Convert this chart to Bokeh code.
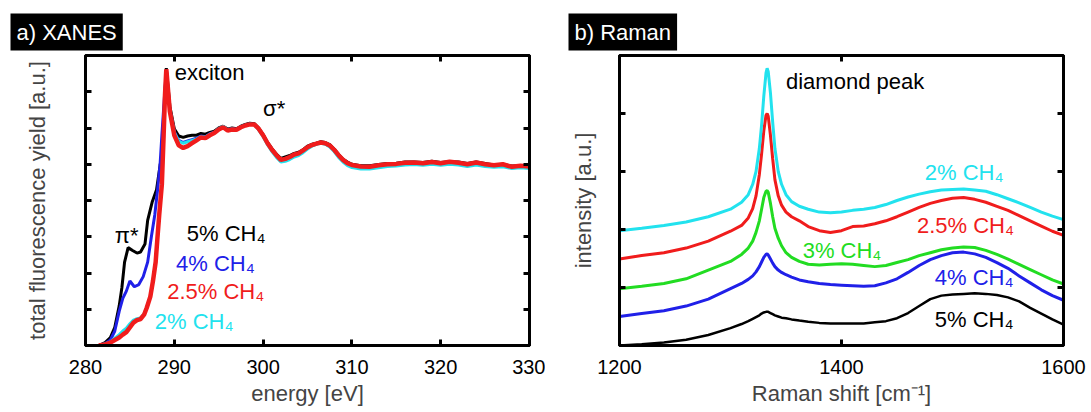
from bokeh.plotting import figure
from bokeh.models import Range1d, LinearAxis, FixedTicker, Label, CustomJSTickFormatter
from bokeh.layouts import row
from bokeh.embed import file_html
from bokeh.resources import INLINE

FONT = "Liberation Sans"

# ---------------- XANES data ----------------
xanes_ticks = [280, 290, 300, 310, 320, 330]

black_pre_e = [281.5, 282.2, 282.8, 283.3, 283.8, 284.1, 284.4, 284.8, 285.3, 285.8, 286.2, 286.7, 287.0, 287.5, 288.0, 288.3, 288.6, 288.9]
black_pre_y = [0.0, 0.08, 0.22, 0.5, 1.1, 1.6, 2.3, 2.7, 2.62, 2.55, 2.58, 2.8, 3.45, 3.95, 4.3, 4.8, 5.3, 6.7]

blue_pre_e = [281.5, 282.2, 282.8, 283.3, 283.8, 284.2, 284.6, 285.0, 285.5, 286.0, 286.5, 287.0, 287.4, 287.8, 288.1, 288.4, 288.6, 288.9]
blue_pre_y = [0.0, 0.05, 0.15, 0.4, 0.95, 1.3, 1.5, 1.78, 1.62, 1.68, 1.9, 2.3, 2.97, 3.6, 4.26, 5.0, 5.8, 6.9]

red_pre_e = [281.5, 282.2, 282.8, 283.3, 283.8, 284.2, 284.6, 285.0, 285.4, 285.8, 286.2, 286.6, 286.9, 287.3, 287.6, 287.9, 288.1, 288.3, 288.6, 288.8, 288.95]
red_pre_y = [0.0, 0.03, 0.08, 0.15, 0.22, 0.3, 0.37, 0.5, 0.63, 0.7, 0.73, 0.85, 1.04, 1.35, 1.78, 2.3, 2.96, 3.6, 4.45, 5.8, 6.9]
cyan_pre_y = [0.0, 0.04, 0.1, 0.2, 0.3, 0.4, 0.48, 0.6, 0.7, 0.74, 0.76, 0.88, 1.06, 1.36, 1.8, 2.3, 2.96, 3.6, 4.45, 5.8, 6.9]

post_e = [289.1, 289.5, 290.0, 290.5, 291.0, 291.5, 292.0, 292.5, 293.0, 293.5, 294.0, 294.5, 295.0, 295.5,
          296.0, 296.5, 297.0, 297.5, 298.0, 298.5, 299.0, 299.5, 300.0, 300.5, 301.0, 301.5, 302.0, 302.5,
          303.0, 303.5, 304.0, 304.5, 305.0, 305.5, 306.0, 306.5, 307.0, 307.5, 308.0, 308.5, 309.0, 309.5,
          310.0, 311, 312, 313, 314, 315, 316, 317, 318, 319, 320, 321, 322, 323, 324, 325, 326, 327, 328, 329, 330]
red_post = [7.62, 6.45, 5.8, 5.52, 5.45, 5.5, 5.58, 5.66, 5.74, 5.72, 5.8, 5.86, 5.96, 6.02,
            5.93, 5.96, 5.95, 6.02, 6.07, 6.1, 6.1, 5.98, 5.8, 5.58, 5.4, 5.25, 5.12, 5.15,
            5.2, 5.27, 5.3, 5.38, 5.47, 5.53, 5.57, 5.6, 5.58, 5.52, 5.4, 5.25, 5.12, 5.03,
            4.98, 4.94, 4.93, 4.97, 5.0, 5.01, 5.04, 5.05, 5.03, 5.06, 5.03, 5.07, 5.04, 5.0, 5.05, 5.0, 4.97, 5.0, 4.93, 4.96, 4.94]
black_post = [7.65, 6.6, 5.98, 5.78, 5.74, 5.78, 5.8, 5.8, 5.85, 5.83, 5.88, 5.91, 6.0, 6.05,
              5.97, 6.0, 5.98, 6.05, 6.1, 6.13, 6.12, 6.0, 5.82, 5.6, 5.43, 5.28, 5.16, 5.2,
              5.24, 5.3, 5.33, 5.4, 5.5, 5.55, 5.58, 5.62, 5.6, 5.54, 5.42, 5.27, 5.14, 5.06,
              5.0, 4.96, 4.96, 4.99, 5.02, 5.03, 5.06, 5.06, 5.05, 5.08, 5.05, 5.07, 5.06, 5.02, 5.06, 5.02, 4.98, 5.0, 4.95, 4.96, 4.93]
blue_post = [7.6, 6.5, 5.9, 5.66, 5.6, 5.64, 5.68, 5.72, 5.78, 5.76, 5.84, 5.88, 5.98, 6.04,
             5.95, 5.98, 5.96, 6.03, 6.08, 6.11, 6.1, 5.97, 5.79, 5.57, 5.39, 5.23, 5.1, 5.13,
             5.18, 5.25, 5.28, 5.36, 5.46, 5.52, 5.56, 5.6, 5.57, 5.5, 5.38, 5.22, 5.1, 5.0,
             4.95, 4.91, 4.9, 4.94, 4.97, 4.98, 5.01, 5.02, 5.0, 5.03, 5.0, 5.03, 5.01, 4.97, 5.01, 4.97, 4.94, 4.96, 4.9, 4.92, 4.9]
cyan_post = [7.6, 6.5, 5.88, 5.64, 5.58, 5.62, 5.66, 5.7, 5.76, 5.75, 5.83, 5.88, 5.98, 6.05,
             5.95, 5.97, 5.96, 6.03, 6.08, 6.11, 6.09, 5.95, 5.76, 5.54, 5.35, 5.19, 5.06, 5.08,
             5.13, 5.2, 5.24, 5.32, 5.42, 5.5, 5.55, 5.58, 5.55, 5.48, 5.35, 5.19, 5.06, 4.96,
             4.91, 4.87, 4.87, 4.9, 4.94, 4.95, 4.98, 4.99, 4.97, 5.0, 4.97, 5.0, 4.98, 4.94, 4.98, 4.94, 4.92, 4.93, 4.88, 4.9, 4.88]

# ---------------- Raman data ----------------
raman_ticks = [1200, 1400, 1600]
shift = [1200, 1220, 1240, 1260, 1280, 1300, 1310, 1316, 1320, 1323, 1326, 1328, 1330, 1332, 1333, 1334,
         1336, 1338, 1340, 1343, 1346, 1350, 1355, 1362, 1370, 1380, 1390, 1400, 1410, 1420, 1430, 1440,
         1450, 1460, 1470, 1480, 1490, 1500, 1510, 1520, 1530, 1540, 1550, 1560, 1570, 1580, 1590, 1600]
r_cyan = [1.98, 2.02, 2.07, 2.13, 2.22, 2.35, 2.47, 2.6, 2.78, 3.0, 3.4, 3.8, 4.3, 4.7, 4.78, 4.72,
          4.35, 3.85, 3.4, 3.0, 2.78, 2.6, 2.48, 2.4, 2.35, 2.3, 2.29, 2.3, 2.33, 2.35, 2.38, 2.43,
          2.5, 2.56, 2.61, 2.65, 2.68, 2.69, 2.7, 2.68, 2.66, 2.6, 2.53, 2.46, 2.38, 2.3, 2.23, 2.17]
r_red = [1.49, 1.55, 1.6, 1.68, 1.8, 1.97, 2.07, 2.2, 2.36, 2.58, 2.95, 3.3, 3.7, 3.97, 4.0, 3.95,
         3.62, 3.22, 2.86, 2.58, 2.42, 2.3, 2.22, 2.15, 2.05, 1.98, 1.95, 1.98, 2.05, 2.06, 2.1, 2.15,
         2.22, 2.3, 2.38, 2.45, 2.5, 2.54, 2.55, 2.52, 2.47, 2.4, 2.33, 2.24, 2.15, 2.06, 1.97, 1.9]
r_green = [0.98, 1.02, 1.07, 1.15, 1.3, 1.45, 1.57, 1.68, 1.8, 1.95, 2.15, 2.35, 2.55, 2.66, 2.67, 2.64,
           2.45, 2.22, 2.02, 1.85, 1.72, 1.6, 1.52, 1.45, 1.4, 1.39, 1.4, 1.41, 1.4, 1.38, 1.36, 1.38,
           1.43, 1.48, 1.55, 1.6, 1.65, 1.68, 1.7, 1.69, 1.64, 1.57, 1.49, 1.4, 1.31, 1.22, 1.13, 1.06]
r_blue = [0.5, 0.55, 0.6, 0.68, 0.8, 0.98, 1.07, 1.14, 1.2, 1.27, 1.36, 1.44, 1.52, 1.57, 1.58, 1.56,
          1.49, 1.42, 1.36, 1.3, 1.26, 1.22, 1.18, 1.13, 1.1, 1.07, 1.05, 1.04, 1.03, 1.02, 1.03, 1.08,
          1.15, 1.26, 1.38, 1.48, 1.55, 1.6, 1.61, 1.58, 1.52, 1.43, 1.33, 1.2, 1.08, 0.96, 0.86, 0.78]
r_black = [0.0, 0.02, 0.05, 0.1, 0.18, 0.3, 0.37, 0.42, 0.46, 0.49, 0.52, 0.55, 0.57, 0.58, 0.58, 0.58,
           0.56, 0.54, 0.52, 0.5, 0.48, 0.47, 0.45, 0.43, 0.41, 0.39, 0.38, 0.38, 0.38, 0.38, 0.4, 0.42,
           0.47, 0.56, 0.68, 0.8, 0.86, 0.88, 0.89, 0.9, 0.89, 0.87, 0.83, 0.76, 0.65, 0.55, 0.45, 0.36]

C_BLACK = "#000000"
C_BLUE = "#2020e8"
C_RED = "#f01c1c"
C_CYAN = "#22e2ee"
C_GREEN = "#22dc22"


def style(p, ticks, yticks, xlabel, ylabel, ystandoff, title, title_offset):
    p.outline_line_color = "black"
    p.outline_line_width = 3
    p.xgrid.visible = False
    p.ygrid.visible = False
    p.background_fill_color = "white"
    p.border_fill_color = "white"
    p.add_layout(LinearAxis(), "above")
    p.add_layout(LinearAxis(), "right")
    blank = CustomJSTickFormatter(code="return ''")
    for ax in p.xaxis:
        ax.ticker = FixedTicker(ticks=ticks)
    for ax in p.yaxis:
        ax.ticker = FixedTicker(ticks=yticks)
    for ax in p.xaxis + p.yaxis:
        ax.axis_line_width = 3
        ax.axis_line_color = "black"
        ax.major_tick_in = 6
        ax.major_tick_out = 0
        ax.major_tick_line_width = 3
        ax.minor_tick_line_color = None
        ax.major_label_text_font = FONT
        ax.axis_label_text_font = FONT
    for ax in (p.above[0], p.right[0], p.left[0]):
        ax.formatter = blank
        ax.major_label_standoff = 0
    b = p.below[0]
    b.major_label_text_font_size = "20px"
    b.major_label_text_color = "black"
    b.major_label_standoff = 14
    b.axis_label = xlabel
    b.axis_label_text_font_size = "22px"
    b.axis_label_text_font_style = "normal"
    b.axis_label_standoff = 4
    l = p.left[0]
    l.axis_label = ylabel
    l.axis_label_text_font_size = "22px"
    l.axis_label_text_font_style = "normal"
    l.axis_label_standoff = ystandoff
    p.title.text = title
    p.title.text_color = "white"
    p.title.text_font = FONT
    p.title.text_font_size = "22px"
    p.title.text_font_style = "normal"
    p.title.background_fill_color = "black"
    p.title.align = "left"
    p.title.offset = title_offset
    p.title.padding = 6
    p.title.standoff = 10


def lab(p, x, y, text, color):
    p.add_layout(Label(x=x, y=y, text=text, text_color=color, text_font=FONT,
                       text_font_size="22px", text_baseline="middle", text_align="left"))


# ---------------- panel a ----------------
pa = figure(width=545, height=412, output_backend="svg", toolbar_location=None,
            x_range=Range1d(280, 330), y_range=Range1d(0, 8),
            min_border_left=85, min_border_right=16, min_border_top=55, min_border_bottom=67)
style(pa, xanes_ticks, [1, 2, 3, 4, 5, 6, 7], "energy [eV]", "total fluorescence yield [a.u.]", 36,
      "a) XANES", -75)

pa.line(black_pre_e + post_e, black_pre_y + black_post, line_color=C_BLACK, line_width=3)
pa.line(blue_pre_e + post_e, blue_pre_y + blue_post, line_color=C_BLUE, line_width=3)
pa.line(red_pre_e + post_e, cyan_pre_y + cyan_post, line_color=C_CYAN, line_width=3)
pa.line(red_pre_e + post_e, red_pre_y + red_post, line_color=C_RED, line_width=4.5)

lab(pa, 290.05, 7.53, "exciton", C_BLACK)
lab(pa, 300.0, 6.54, "σ*", C_BLACK)
lab(pa, 283.3, 3.03, "π*", C_BLACK)
lab(pa, 291.4, 3.08, "5% CH₄", C_BLACK)
lab(pa, 290.2, 2.26, "4% CH₄", C_BLUE)
lab(pa, 289.2, 1.49, "2.5% CH₄", C_RED)
lab(pa, 287.8, 0.66, "2% CH₄", C_CYAN)

# ---------------- panel b ----------------
pb = figure(width=546, height=412, output_backend="svg", toolbar_location=None,
            x_range=Range1d(1200, 1600), y_range=Range1d(0, 5),
            min_border_left=74, min_border_right=28, min_border_top=52, min_border_bottom=67)
style(pb, raman_ticks, [1, 2, 3, 4], "Raman shift [cm⁻¹]", "intensity [a.u.]", 24,
      "b) Raman", -51)

pb.line(shift, r_black, line_color=C_BLACK, line_width=2.5)
pb.line(shift, r_blue, line_color=C_BLUE, line_width=3)
pb.line(shift, r_green, line_color=C_GREEN, line_width=3)
pb.line(shift, r_red, line_color=C_RED, line_width=3)
pb.line(shift, r_cyan, line_color=C_CYAN, line_width=3)

lab(pb, 1350, 4.55, "diamond peak", C_BLACK)
lab(pb, 1475, 2.98, "2% CH₄", C_CYAN)
lab(pb, 1468, 2.07, "2.5% CH₄", C_RED)
lab(pb, 1365, 1.63, "3% CH₄", C_GREEN)
lab(pb, 1484, 1.18, "4% CH₄", C_BLUE)
lab(pb, 1484, 0.45, "5% CH₄", C_BLACK)

layout = row(pa, pb)
open("out.html", "w").write(file_html(layout, INLINE))
